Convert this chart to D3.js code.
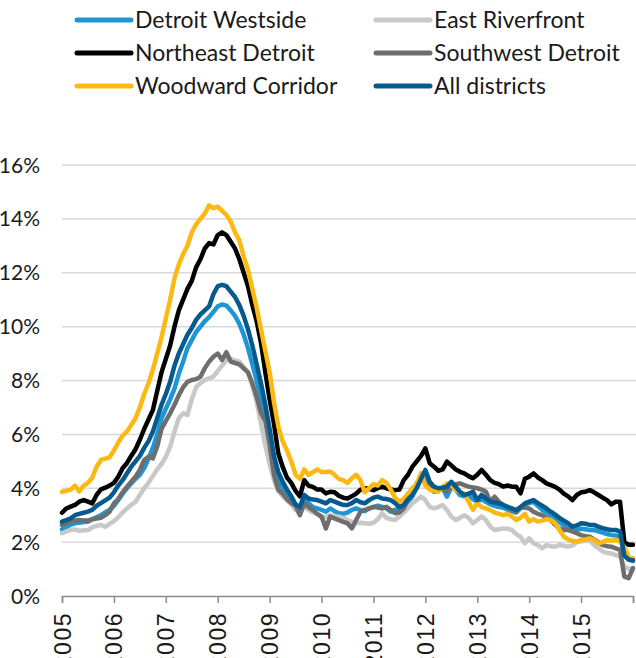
<!DOCTYPE html>
<html>
<head>
<meta charset="utf-8">
<script src="https://cdn.jsdelivr.net/npm/d3@7"></script>
<style>
  body { margin: 0; background: #fff; }
  svg { display: block; }
</style>
</head>
<body>
<div id="chart"></div>
<script>
// monthly values, Jan 2005 .. Jan 2016 (index 0..132)
const tickYears = ["2005", "2006", "2007", "2008", "2009", "2010", "2011", "2012", "2013", "2014", "2015", ""];
const yTicks = [0, 2, 4, 6, 8, 10, 12, 14, 16];

const seriesNames = ["Detroit Westside", "East Riverfront", "Northeast Detroit", "Southwest Detroit", "Woodward Corridor", "All districts"];

const westside = [2.47, 2.55, 2.65, 2.7, 2.72, 2.75, 2.76, 2.85, 2.92, 3.0, 3.1, 3.2,
  3.35, 3.56, 3.8, 4.0, 4.18, 4.35, 4.5, 4.75, 5.1, 5.5, 6.0, 6.6,
  6.95, 7.3, 7.7, 8.25, 8.7, 9.2, 9.5, 9.8, 10.0, 10.2, 10.35, 10.55,
  10.75, 10.82, 10.78, 10.6, 10.4, 10.1, 9.7, 9.2, 8.6, 8.0, 7.3, 6.6,
  5.8, 4.9, 4.3, 4.0, 3.7, 3.45, 3.2, 3.15, 3.6, 3.45, 3.3, 3.25,
  3.2, 3.13, 3.25, 3.15, 3.07, 3.05, 3.1, 3.2, 3.25, 3.19, 3.15, 3.25,
  3.3, 3.35, 3.31, 3.25, 3.13, 3.2, 3.25, 3.3, 3.5, 3.7, 4.1, 4.49,
  4.6, 4.0, 3.87, 3.9, 4.0, 3.69, 4.05, 3.95, 3.75, 3.7, 3.75, 3.6,
  3.5, 3.6, 3.5, 3.4, 3.35, 3.3, 3.28, 3.2, 3.15, 3.1, 3.25, 3.4,
  3.45, 3.5, 3.35, 3.2, 3.1, 3.0, 2.9, 2.75, 2.62, 2.5, 2.4, 2.45,
  2.5, 2.48, 2.45, 2.45, 2.4, 2.35, 2.3, 2.26, 2.25, 2.2, 1.55, 1.35, 1.3];

const eastRiverfront = [2.33, 2.4, 2.45, 2.47, 2.42, 2.44, 2.45, 2.55, 2.6, 2.64, 2.57, 2.68,
  2.78, 2.92, 3.1, 3.25, 3.38, 3.5, 3.75, 4.0, 4.2, 4.45, 4.7, 4.9,
  5.17, 5.54, 6.1, 6.6, 6.78, 6.72, 7.3, 7.75, 7.9, 8.02, 8.08, 8.14,
  8.35, 8.55, 8.75, 8.8, 8.75, 8.7, 8.5, 8.3, 7.8, 7.2, 6.4, 5.6,
  4.9, 4.3, 3.9, 3.7, 3.55, 3.4, 3.2, 3.15, 3.3, 3.2, 3.1, 3.05,
  2.9, 2.95, 3.0, 2.95, 2.95, 2.9, 2.82, 2.75, 2.7, 2.72, 2.7, 2.68,
  2.72, 2.85, 3.07, 2.9, 2.85, 2.82, 2.95, 3.1, 3.25, 3.45, 3.56, 3.69,
  3.56, 3.31, 3.25, 3.3, 3.38, 3.19, 2.95, 2.82, 2.9, 3.0, 2.9, 2.7,
  2.82, 2.95, 2.82, 2.57, 2.45, 2.48, 2.51, 2.5, 2.45, 2.3, 2.2, 1.96,
  2.14, 1.96, 1.89, 1.77, 1.89, 1.85, 1.83, 1.89, 1.87, 1.83, 1.88, 2.0,
  2.02, 2.05, 2.08, 1.89, 1.77, 1.65, 1.6, 1.58, 1.52, 1.46, 1.1, 1.0, 1.05];

const northeast = [3.09, 3.25, 3.32, 3.38, 3.5, 3.56, 3.5, 3.44, 3.75, 3.96, 4.02, 4.1,
  4.2, 4.43, 4.74, 4.93, 5.2, 5.45, 5.8, 6.2, 6.55, 6.9, 7.6, 8.3,
  8.8, 9.3, 10.0, 10.6, 11.0, 11.4, 11.7, 12.2, 12.5, 12.9, 13.1, 13.05,
  13.4, 13.5, 13.4, 13.15, 12.9, 12.5, 12.0, 11.5, 10.8, 10.2, 9.4, 8.3,
  7.3, 6.4, 5.3, 4.8, 4.4, 4.2, 3.9, 3.7, 4.3, 4.1, 4.05, 3.95,
  3.95, 3.81, 3.87, 3.85, 3.72, 3.65, 3.62, 3.7, 3.8, 3.95, 4.0, 3.98,
  3.93, 4.0, 4.06, 4.0, 3.95, 3.93, 3.95, 4.3, 4.5, 4.8, 5.0, 5.2,
  5.48, 4.93, 4.8, 4.65, 4.7, 4.99, 4.85, 4.7, 4.61, 4.55, 4.45, 4.37,
  4.5, 4.68, 4.5, 4.3, 4.2, 4.15, 4.06, 4.1, 4.06, 4.06, 3.81, 4.35,
  4.43, 4.55, 4.4, 4.3, 4.18, 4.12, 4.05, 3.95, 3.8, 3.7, 3.56, 3.75,
  3.85, 3.87, 3.93, 3.85, 3.75, 3.65, 3.56, 3.4, 3.5, 3.5, 2.0, 1.9, 1.9];

const southwest = [2.64, 2.7, 2.78, 2.8, 2.82, 2.8, 2.8, 2.85, 2.88, 2.9, 3.0, 3.13,
  3.44, 3.6, 3.85, 4.05, 4.24, 4.43, 4.68, 5.05, 5.17, 5.11, 5.54, 6.2,
  6.5, 6.78, 7.1, 7.45, 7.75, 7.95, 8.02, 8.05, 8.14, 8.45, 8.7, 8.88,
  9.0, 8.76, 9.05, 8.7, 8.65, 8.6, 8.45, 8.3, 7.9, 7.4, 6.8, 6.5,
  5.6, 4.5, 3.95, 3.8, 3.6, 3.45, 3.35, 3.0, 3.44, 3.3, 3.19, 3.05,
  2.95, 2.51, 2.95, 2.88, 2.82, 2.75, 2.7, 2.51, 2.82, 3.13, 3.2, 3.25,
  3.31, 3.28, 3.25, 3.31, 3.19, 3.07, 3.1, 3.25, 3.6, 3.81, 4.18, 4.37,
  4.2, 4.0, 3.93, 3.97, 4.0, 3.87, 4.12, 4.15, 4.18, 4.12, 4.06, 4.03,
  4.0, 3.95, 3.87, 3.5, 3.69, 3.5, 3.38, 3.3, 3.2, 3.13, 3.3, 3.28,
  3.25, 3.13, 3.05, 3.0, 2.9, 2.82, 2.64, 2.5, 2.45, 2.45, 2.4, 2.33,
  2.26, 2.22, 2.2, 2.1, 2.0, 1.89, 1.85, 1.83, 1.77, 1.71, 0.72, 0.66, 1.03];

const woodward = [3.87, 3.9, 3.95, 4.1, 3.88, 4.1, 4.2, 4.4, 4.8, 5.05, 5.1, 5.15,
  5.4, 5.7, 5.95, 6.1, 6.35, 6.6, 7.0, 7.5, 7.9, 8.4, 9.0, 9.6,
  10.3, 11.0, 11.8, 12.3, 12.7, 13.0, 13.5, 13.8, 14.0, 14.2, 14.5, 14.4,
  14.45, 14.3, 14.15, 13.9, 13.5, 13.2, 12.6, 12.1, 11.4, 10.7, 9.9, 9.1,
  8.3, 7.2, 6.3, 5.75, 5.4, 5.0, 4.5, 4.35, 4.7, 4.5, 4.6, 4.7,
  4.6, 4.6, 4.62, 4.5, 4.35, 4.3, 4.2, 4.37, 4.5, 4.3, 3.85, 4.0,
  4.15, 4.1, 4.3, 4.2, 3.95, 3.65, 3.5, 3.6, 3.8, 4.0, 4.15, 4.55,
  4.1, 3.95, 3.9, 3.87, 4.05, 4.18, 4.12, 3.95, 3.85, 3.8, 3.5, 3.2,
  3.44, 3.3, 3.25, 3.19, 3.1, 3.05, 3.0, 3.05, 2.95, 2.82, 2.9, 3.05,
  2.76, 2.85, 2.76, 2.8, 2.85, 2.82, 2.7, 2.45, 2.2, 2.1, 2.05, 2.02,
  2.08, 2.1, 2.14, 2.08, 1.96, 2.0, 2.08, 2.05, 2.08, 2.02, 1.8, 1.45, 1.4];

const allDistricts = [2.76, 2.82, 2.88, 3.0, 3.05, 3.09, 3.13, 3.2, 3.35, 3.45, 3.55, 3.65,
  3.85, 4.1, 4.3, 4.55, 4.8, 5.0, 5.2, 5.5, 5.75, 6.1, 6.6, 7.1,
  7.5, 7.95, 8.55, 9.0, 9.35, 9.7, 9.95, 10.25, 10.45, 10.6, 10.75, 11.2,
  11.5, 11.55, 11.5, 11.3, 11.1, 10.8, 10.4, 9.9, 9.3, 8.6, 7.9, 7.1,
  6.2, 5.2, 4.6, 4.25, 3.95, 3.7, 3.4, 3.3, 3.75, 3.62, 3.58, 3.56,
  3.5, 3.44, 3.56, 3.5, 3.44, 3.38, 3.38, 3.45, 3.56, 3.48, 3.44, 3.56,
  3.65, 3.69, 3.62, 3.6, 3.56, 3.45, 3.3, 3.38, 3.6, 3.75, 4.0, 4.35,
  4.68, 4.24, 4.06, 4.0, 4.02, 4.06, 4.24, 4.06, 3.87, 3.75, 3.8, 3.87,
  3.56, 3.75, 3.62, 3.5, 3.47, 3.44, 3.38, 3.31, 3.25, 3.19, 3.3, 3.44,
  3.5, 3.56, 3.45, 3.35, 3.25, 3.13, 3.02, 2.9, 2.8, 2.7, 2.57, 2.62,
  2.7, 2.68, 2.64, 2.64, 2.57, 2.52, 2.48, 2.45, 2.45, 2.4, 1.5, 1.35, 1.33];

const seriesValues = [westside, eastRiverfront, northeast, southwest, woodward, allDistricts];
const colors = ["#1e96d3", "#c8c8c8", "#000000", "#6e6e6e", "#fdb913", "#065a8e"];

const W = 636, H = 658;
const svg = d3.select("#chart").append("svg")
    .attr("width", W)
    .attr("height", H);

const x = d3.scaleLinear().domain([0, 132]).range([62, 633]);
const y = d3.scaleLinear().domain([0, 16]).range([596, 165]);

// grid lines
svg.append("g")
    .selectAll("line")
    .data(yTicks.filter(d => d > 0))
    .join("line")
    .attr("x1", 62)
    .attr("x2", 636)
    .attr("y1", d => y(d))
    .attr("y2", d => y(d))
    .attr("stroke", "#d9d9d9")
    .attr("stroke-width", 1.5);

// y labels
svg.append("g")
    .selectAll("text")
    .data(yTicks)
    .join("text")
    .attr("x", 40)
    .attr("y", d => y(d))
    .attr("dy", "0.36em")
    .attr("text-anchor", "end")
    .attr("font-family", "Lato, sans-serif")
    .attr("font-size", 21)
    .attr("fill", "#1a1a1a")
    .text(d => d + "%");

// lines
const line = d3.line()
    .x((d, i) => x(i))
    .y(d => y(d));

svg.append("g")
    .selectAll("path")
    .data(seriesValues)
    .join("path")
    .attr("d", line)
    .attr("fill", "none")
    .attr("stroke", (d, i) => colors[i])
    .attr("stroke-width", 4.5)
    .attr("stroke-linejoin", "round")
    .attr("stroke-linecap", "round");

// x axis
const xAxis = d3.axisBottom(x)
    .tickValues(d3.range(0, 133, 12))
    .tickSize(7)
    .tickFormat((d, i) => tickYears[i]);

const gx = svg.append("g")
    .attr("transform", `translate(0,${y(0)})`)
    .call(xAxis);
gx.select(".domain").attr("stroke", "#8c8c8c").attr("stroke-width", 1.5);
gx.selectAll(".tick line").attr("stroke", "#8c8c8c").attr("stroke-width", 1.5);
gx.selectAll(".tick text")
    .attr("font-family", "'Liberation Sans', Arial, sans-serif")
    .attr("font-size", 23)
    .attr("letter-spacing", 1.5)
    .attr("fill", "#1a1a1a")
    .attr("text-anchor", "end")
    .attr("transform", "rotate(-90)")
    .attr("x", -16)
    .attr("y", 0)
    .attr("dy", "0.35em");

// legend
const legend = svg.append("g")
    .selectAll("g")
    .data(seriesNames)
    .join("g")
    .attr("transform", (d, i) => `translate(${i % 2 === 0 ? 77 : 376},${20 + Math.floor(i / 2) * 33})`);

legend.append("line")
    .attr("x1", 0)
    .attr("x2", 54)
    .attr("stroke", (d, i) => colors[i])
    .attr("stroke-width", 5)
    .attr("stroke-linecap", "round");

legend.append("text")
    .attr("x", 58)
    .attr("dy", "0.36em")
    .attr("font-family", "Lato, sans-serif")
    .attr("font-size", 23)
    .attr("fill", "#1a1a1a")
    .text(d => d);
</script>
</body>
</html>
